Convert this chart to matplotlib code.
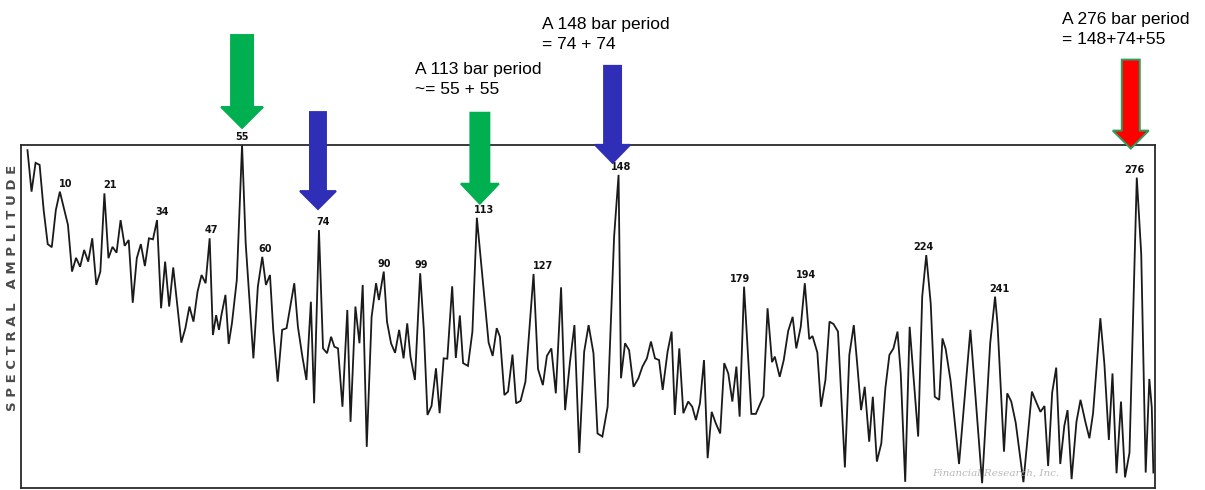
import matplotlib
matplotlib.use("Agg")
import matplotlib.pyplot as plt
from matplotlib.patches import Polygon
from matplotlib.transforms import IdentityTransform

# Spectral amplitude versus cycle period (bars), vertices of the traced spectrum
period = [
    2, 3, 4, 5, 6, 7, 8, 9, 10, 11, 12, 13, 14, 15, 16, 17, 18, 19, 20, 21,
    22, 23, 24, 25, 26, 27, 28, 29, 30, 31, 32, 33, 34, 35, 36, 37, 38, 40, 41, 42,
    43, 44, 45, 46, 47,
    47.8, 48.6, 49.3, 49.9, 50.9, 51.7, 52.5, 53.7, 55,
    55.9, 57.8, 58.9, 60,
    60.9, 61.9, 62.7, 63.8, 64.9, 66.0, 67.9, 68.8, 69.9, 70.9, 72.0, 72.8, 74,
    75.0, 76.0, 77.0, 77.8, 78.7, 79.8, 81.0, 81.8, 83.0, 84.0, 84.8, 85.8, 87.0, 88.1, 88.8, 90,
    90.8, 91.8, 92.8, 93.8, 94.9, 95.8, 96.6, 97.7, 99,
    99.9, 100.8, 101.8, 102.9, 103.8, 104.8, 105.7, 106.9, 107.8, 108.8, 109.6, 110.8, 111.9, 113,
    115.9, 116.9, 117.9, 118.7, 119.8, 120.7, 121.8, 122.7, 123.8, 125.0, 127,
    128.1, 129.3, 130.3, 131.4, 132.5, 133.8, 134.8, 136.0, 137.1, 138.3, 139.5, 140.6, 141.8,
    142.8, 144.0, 145.3, 146.9, 148,
    148.6, 149.6, 150.6, 151.7, 152.9, 153.9, 155.0, 156.0, 157.0, 158.0, 158.9, 160.1, 161.1,
    161.9, 163.0, 164.0, 165.2, 166.2, 167.1, 168.1, 169.1, 170.0, 171.0, 172.0, 173.1, 174.1,
    175.1, 176.1, 177.1, 177.9, 179,
    180.8, 181.9, 183.8, 184.8, 185.9, 186.6, 187.8, 188.8, 189.9, 191.0, 191.9, 193.0, 194,
    195.1, 195.9, 197.1, 198.0, 199.1, 200.1, 201.1, 202.2, 203.9, 205.0, 206.1, 207.0, 207.9,
    208.8, 209.9, 210.8, 211.8, 212.9, 213.9, 214.9, 215.9, 216.9, 217.7, 218.8, 219.9, 222.0,
    223.0, 224,
    225.1, 226.1, 227.2, 228.0, 228.8, 230.0, 232.1, 234.9, 237.8, 239.8, 241,
    241.6, 243.2, 244.0, 245.0, 246.1, 248.0, 250.1, 251.1, 252.2, 253.2, 254.1, 255.1, 256.1,
    257.1, 258.1, 258.9, 259.9, 261.1, 262.1, 263.3, 264.3, 265.2, 267.0, 268.0, 269.1, 270.0,
    271.0, 272.1, 273.1, 274.2, 276,
    277.1, 278.2, 279.1, 279.7, 280.1,
]

amplitude = [
    98.5, 86.4, 94.8, 94.2, 81.0, 71.1, 70.2, 81.0, 86.4, 81.6, 76.7, 63.1, 67.1, 64.5, 69.4,
    66.0, 72.8, 59.2, 63.1, 85.9,
    67.0, 70.3, 68.6, 78.1, 70.6, 72.3, 54.0, 67.0, 71.1, 64.7, 72.8, 72.5, 78.1, 52.4, 66.0,
    52.9, 64.3, 42.4, 46.6, 52.9,
    48.5, 57.2, 62.1, 59.7, 72.8,
    44.6, 50.4, 46.1, 50.4, 56.3, 42.0, 48.0, 60.6, 100.0,
    71.3, 37.8, 58.7, 67.4,
    59.2, 62.1, 46.1, 31.0, 46.1, 46.6, 59.7, 47.0, 38.3, 31.5, 54.3, 24.7, 75.2,
    40.7, 39.3, 44.1, 41.2, 40.7, 23.7, 51.9, 19.3, 52.9, 42.2, 59.2, 12.0, 49.9, 59.7, 54.8, 63.1,
    48.5, 42.2, 39.4, 46.1, 37.8, 48.0, 38.3, 31.5, 62.6,
    46.1, 21.3, 23.9, 34.9, 21.8, 37.8, 37.7, 58.8, 37.9, 50.3, 36.4, 35.6, 45.6, 78.8,
    42.4, 38.5, 46.6, 44.1, 27.1, 28.1, 38.9, 24.7, 25.4, 31.0, 62.4,
    34.7, 30.0, 38.5, 40.7, 27.6, 58.5, 22.7, 36.8, 47.5, 10.2, 39.7, 47.5, 39.3,
    15.9, 15.0, 23.7, 73.3, 91.3,
    32.0, 42.2, 40.2, 29.5, 32.0, 35.4, 37.8, 42.7, 37.8, 37.3, 28.6, 39.7, 45.6,
    21.3, 40.7, 21.8, 25.2, 23.7, 19.8, 24.7, 37.3, 8.7, 22.2, 18.9, 15.9, 36.4,
    33.4, 25.2, 35.4, 20.8, 58.7,
    21.6, 21.6, 26.8, 52.4, 36.7, 38.3, 32.4, 37.3, 45.8, 49.9, 40.7, 47.0, 59.7,
    43.4, 44.3, 39.5, 23.7, 31.5, 48.5, 47.8, 45.6, 6.0, 38.8, 47.5, 35.4, 22.7,
    29.5, 13.5, 26.6, 7.7, 13.0, 29.1, 38.8, 40.7, 45.6, 33.4, 1.8, 47.0, 15.0,
    55.8, 67.9,
    53.8, 26.6, 25.7, 43.6, 40.5, 31.3, 7.0, 46.1, 1.4, 42.3, 55.8,
    47.8, 10.6, 27.6, 25.2, 19.0, 1.7, 28.1, 25.2, 22.2, 23.9, 6.4, 27.8, 35.1,
    7.0, 18.1, 22.7, 2.6, 19.3, 25.7, 19.3, 14.5, 21.8, 49.5, 36.2, 14.0, 33.4,
    4.3, 25.2, 3.1, 10.3, 90.5,
    68.2, 4.5, 31.8, 23.5, 4.5,
]

# Periods of the numbered spectral peaks
peak_periods = [10, 21, 34, 47, 55, 60, 74, 90, 99, 113, 127, 148, 179, 194, 224, 241, 276]

# Highlighted cycles and their notes
arrow_periods = [55, 74, 113, 148, 276]
note_periods = [113, 148, 276]
note_texts = [
    "A 113 bar period\n~= 55 + 55",
    "A 148 bar period\n= 74 + 74",
    "A 276 bar period\n= 148+74+55",
]
axis_words = ["SPECTRAL", "AMPLITUDE"]
credit = "Financial Research, Inc."

W, H = 1205, 490
fig = plt.figure(figsize=(W / 100, H / 100), dpi=100)
fig.patch.set_facecolor("white")

ax = fig.add_axes([21 / W, 2 / H, (1155 - 21) / W, 343 / H])
ax.plot(period, amplitude, color="#1a1a1a", lw=1.3, clip_on=False,
        solid_joinstyle="miter")
ax.set_xlim(0.4, 280.5)
ax.set_ylim(0, 100)
ax.set_xticks([])
ax.set_yticks([])
for s in ax.spines.values():
    s.set_color("#2a2a2a")
    s.set_linewidth(1.3)


def amp_at(p):
    return amplitude[period.index(p)]


# Peak numbers (horizontal nudge in pixels)
label_nudge = {10: 6, 21: 6, 34: 5, 47: 2, 55: 0, 60: 3, 74: 4, 90: 0, 99: 1,
               113: 7, 127: 10, 148: 3, 179: -4, 194: 1, 224: -3, 241: 4, 276: -2}
px = 72 / 100
for p in peak_periods:
    ax.annotate(str(p), xy=(p, amp_at(p)),
                xytext=(label_nudge[p] * px, 8 * px), textcoords="offset points",
                ha="center", va="center", fontsize=7, fontweight="bold",
                family="DejaVu Sans", color="#111111", annotation_clip=False)

# Block arrows pointing down at the highlighted peaks
arrow_style = {
    55: dict(color="#00B050", edge="#00B050", dx=0, gap=17, length=93, shaft=22, head=42, hl=21),
    74: dict(color="#2E2EB6", edge="#2E2EB6", dx=-1, gap=21, length=97, shaft=16, head=36, hl=18),
    113: dict(color="#00B050", edge="#00B050", dx=3, gap=14, length=91, shaft=19, head=38, hl=20),
    148: dict(color="#2E2EB6", edge="#2E2EB6", dx=-6, gap=12, length=97, shaft=17, head=35, hl=18),
    276: dict(color="#FF0000", edge="#2E9E5B", dx=-6, gap=29, length=89, shaft=18, head=36, hl=18),
}
fig.canvas.draw()
for p in arrow_periods:
    st = arrow_style[p]
    tx, ty = ax.transData.transform((p, amp_at(p)))
    tx += st["dx"]
    ty += st["gap"]
    sw, hw, hl, L = st["shaft"] / 2, st["head"] / 2, st["hl"], st["length"]
    verts = [(tx, ty), (tx - hw, ty + hl), (tx - sw, ty + hl), (tx - sw, ty + L),
             (tx + sw, ty + L), (tx + sw, ty + hl), (tx + hw, ty + hl)]
    poly = Polygon(verts, closed=True, facecolor=st["color"], edgecolor=st["edge"],
                   lw=1.4, transform=IdentityTransform(), zorder=5)
    fig.add_artist(poly)

# Notes above the arrows (left edge and top in pixels)
note_pos = {113: (415, 62), 148: (542, 17), 276: (1062, 12)}
for p, t in zip(note_periods, note_texts):
    x0, y0 = note_pos[p]
    fig.text(x0 / W, 1 - y0 / H, t, ha="left", va="top", fontsize=12.5,
             family="Liberation Sans", color="#000000", linespacing=1.38)

# Vertical axis title and faint credit line
fig.text(13 / W, 1 - 288 / H, "   ".join(" ".join(w) for w in axis_words), rotation=90,
         ha="center", va="center", fontsize=9.5, fontweight="bold", color="#4a4a4a",
         family="DejaVu Sans")
fig.text(932 / W, 1 - 473 / H, credit, ha="left", va="center", fontsize=7.5,
         style="italic", color="#b8b8b8", family="DejaVu Serif")

fig.savefig("out.png", dpi=100, facecolor="white")
